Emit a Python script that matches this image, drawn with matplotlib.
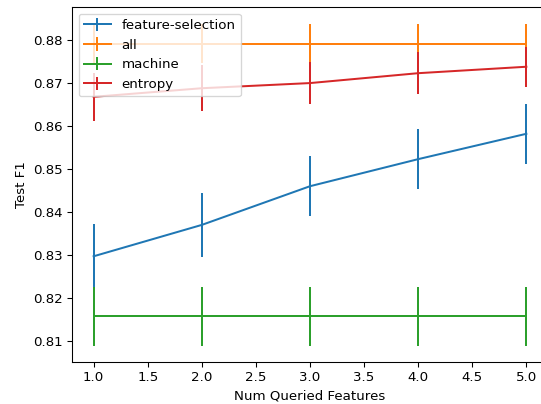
import matplotlib
matplotlib.use("Agg")
import matplotlib.pyplot as plt

# ---- Data ----
num_features = [1, 2, 3, 4, 5]

fs_mean = [0.8297, 0.8370, 0.8460, 0.8523, 0.8582]
fs_err = [0.0076, 0.0075, 0.0070, 0.0069, 0.0070]

all_mean = [0.8792, 0.8792, 0.8792, 0.8792, 0.8792]
all_err = [0.0046, 0.0046, 0.0046, 0.0046, 0.0046]

machine_mean = [0.8157, 0.8157, 0.8157, 0.8157, 0.8157]
machine_err = [0.0068, 0.0068, 0.0068, 0.0068, 0.0068]

entropy_mean = [0.8668, 0.8688, 0.8700, 0.8723, 0.8738]
entropy_err = [0.0056, 0.0053, 0.0049, 0.0049, 0.0047]

# original looks like a 96 dpi render, cropped on the right
DPI = 96
W, H = 541, 404
fig = plt.figure(figsize=(W / DPI, H / DPI), dpi=DPI)
ax = fig.add_axes([72 / W, 1 - 362 / H, 476 / W, 355 / H])

ax.errorbar(num_features, fs_mean, yerr=fs_err, label="feature-selection")
ax.errorbar(num_features, all_mean, yerr=all_err, label="all")
ax.errorbar(num_features, machine_mean, yerr=machine_err, label="machine")
ax.errorbar(num_features, entropy_mean, yerr=entropy_err, label="entropy")

ax.set_xlim(0.8, 5.2)
ax.set_ylim(0.8051, 0.8877)
ax.set_xlabel("Num Queried Features")
ax.set_ylabel("Test F1")
ax.legend(loc="upper left")

fig.savefig("out.png", dpi=DPI)
